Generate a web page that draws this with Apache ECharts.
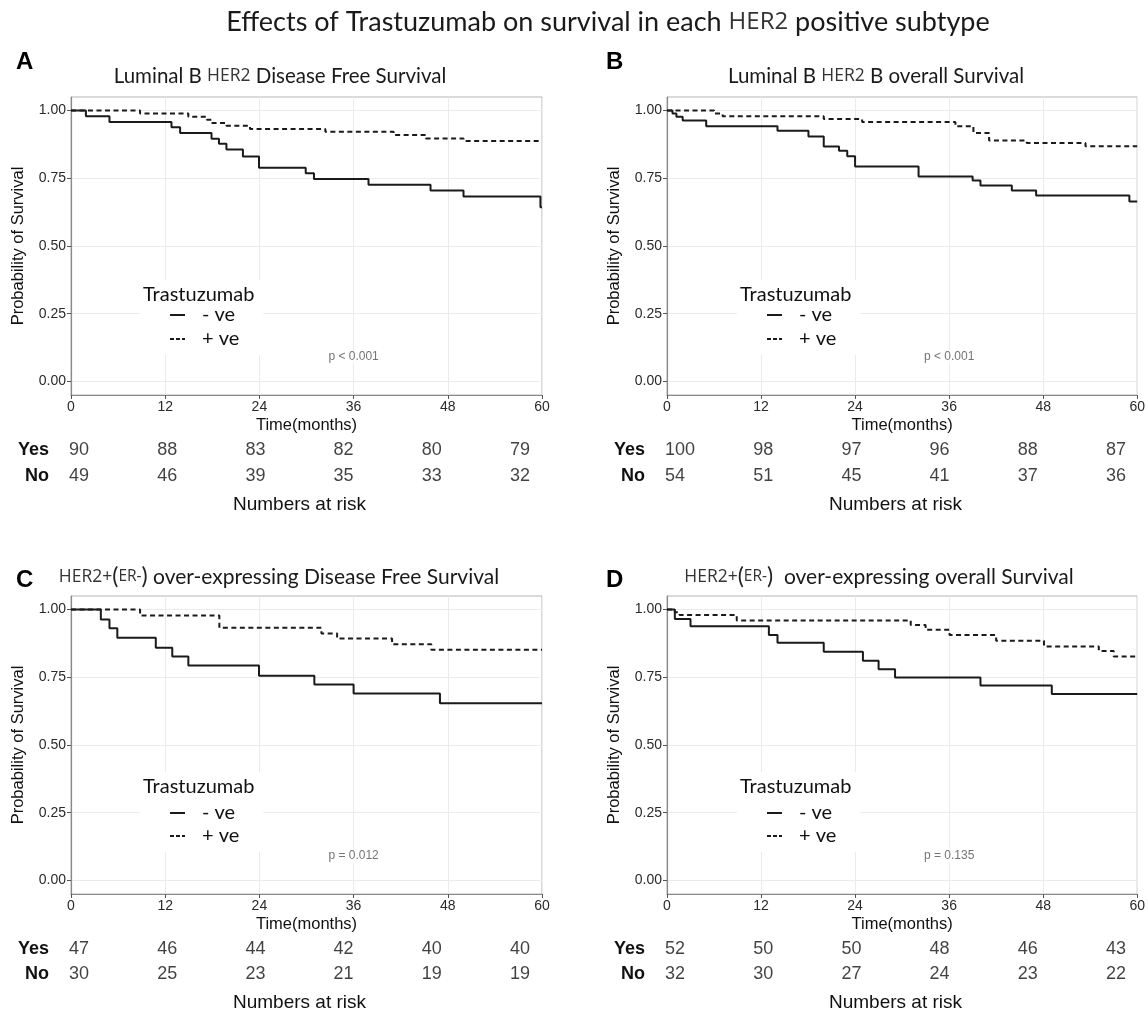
<!DOCTYPE html>
<html><head><meta charset="utf-8">
<script src="https://cdn.jsdelivr.net/npm/echarts@6/dist/echarts.min.js"></script>
<style>html,body{margin:0;padding:0;background:#fff}#c{width:1148px;height:1013px}</style>
</head><body><div id="c"></div>
<script>
// ---- tick labels ----
const xTicks = [0, 12, 24, 36, 48, 60];
const yTicks = [0, 0.25, 0.5, 0.75, 1.0];
const riskTimes = [0, 12, 24, 36, 48, 60];
const groups = ['No', 'Yes'];
const legendNames = ['- ve', '+ ve'];

// ---- Kaplan-Meier step points [month, survival] ----
const A_neg = [[0,1],[1.9,0.979],[4.9,0.958],[12.8,0.938],[13.9,0.917],[17.9,0.896],[18.85,0.877],[19.8,0.856],[21.9,0.830],[23.95,0.789],[29.9,0.769],[30.95,0.747],[37.9,0.726],[45.8,0.705],[50.0,0.683],[59.8,0.643],[60,0.643]];
const A_pos = [[0,1],[8.8,0.989],[14.95,0.977],[17.3,0.966],[17.9,0.954],[19.8,0.944],[22.8,0.932],[32.4,0.922],[41.1,0.910],[45.2,0.897],[50.0,0.888],[60,0.888]];
const B_neg = [[0,1],[0.7,0.989],[1.2,0.977],[2.0,0.963],[5.0,0.942],[14.1,0.925],[18.05,0.904],[20.0,0.867],[21.95,0.852],[23.0,0.831],[24.0,0.793],[32.1,0.757],[39.0,0.742],[40.0,0.723],[44.0,0.705],[47.1,0.686],[59.0,0.664],[60,0.664]];
const B_pos = [[0,1],[6.0,0.989],[7.1,0.979],[20.0,0.969],[24.9,0.958],[36.8,0.942],[39.1,0.917],[41.1,0.889],[45.9,0.880],[53.4,0.868],[60,0.868]];
const C_neg = [[0,1],[3.8,0.963],[4.9,0.931],[5.9,0.896],[10.8,0.859],[12.9,0.827],[14.95,0.793],[23.95,0.756],[31.0,0.723],[36.0,0.690],[47.0,0.654],[60,0.654]];
const C_pos = [[0,1],[8.8,0.978],[18.9,0.933],[31.9,0.912],[33.9,0.893],[40.9,0.872],[45.9,0.852],[60,0.852]];
const D_neg = [[0,1],[1.0,0.965],[3.0,0.938],[13.0,0.906],[14.1,0.877],[20.0,0.844],[25.0,0.811],[27.0,0.780],[29.1,0.749],[40.0,0.720],[49.1,0.688],[60,0.688]];
const D_pos = [[0,1],[1.0,0.990],[1.6,0.980],[8.9,0.960],[31.1,0.943],[33.0,0.925],[36.05,0.906],[42.0,0.885],[48.1,0.864],[55.1,0.847],[57.0,0.827],[60,0.827]];

// ---- numbers at risk ----
const A_yes = [90, 88, 83, 82, 80, 79];
const A_no  = [49, 46, 39, 35, 33, 32];
const B_yes = [100, 98, 97, 96, 88, 87];
const B_no  = [54, 51, 45, 41, 37, 36];
const C_yes = [47, 46, 44, 42, 40, 40];
const C_no  = [30, 25, 23, 21, 19, 19];
const D_yes = [52, 50, 50, 48, 46, 43];
const D_no  = [32, 30, 27, 24, 23, 22];

// ---- p-values (annotation at month 36, survival 0.09) ----
const pTexts = ['p < 0.001', 'p < 0.001', 'p = 0.012', 'p = 0.135'];
const pPos = [36, 0.09];

const mainTitle = 'Effects of Trastuzumab on survival in each {h|HER2} positive subtype';
const panelTitles = [
  'Luminal B {h|HER2} Disease Free Survival',
  'Luminal B {h|HER2} B overall Survival',
  '{h|HER2+}{p|(}{e|ER-}{p|)} over-expressing Disease Free Survival',
  '{h|HER2+}{p|(}{e|ER-}{p|)}  over-expressing overall Survival'
];
const panelLetters = ['A', 'B', 'C', 'D'];

const TF = 'Lato';
const AF = 'Liberation Sans';
const W = 471, H = 298;

const SOLID_ICON = 'path://M0,0h0.01v0.01h-0.01zM0,13.99h0.01v0.01h-0.01zM0,6h15v2h-15z';
const DASH_ICON = 'path://M0,0h0.01v0.01h-0.01zM0,13.99h0.01v0.01h-0.01zM0,6h4v2h-4zM6,6h4v2h-4zM12,6h3v2h-3z';

const panels = [
  {neg:A_neg, pos:A_pos, yes:A_yes, no:A_no, gx:71,  gy:97,  rx:79,  lx:140, ly:280, pt:25, ig:4, tx:280, ty:76,  tf:20.5, bx:16,  by:62},
  {neg:B_neg, pos:B_pos, yes:B_yes, no:B_no, gx:667, gy:97,  rx:675, lx:737, ly:280, pt:25, ig:4, tx:876, ty:76,  tf:20.5, bx:606, by:62},
  {neg:C_neg, pos:C_pos, yes:C_yes, no:C_no, gx:71,  gy:596, rx:79,  lx:140, ly:772, pt:31, ig:3, tx:279, ty:577, tf:21,   bx:16,  by:580},
  {neg:D_neg, pos:D_pos, yes:D_yes, no:D_no, gx:667, gy:596, rx:675, lx:737, ly:772, pt:31, ig:3, tx:879, ty:577, tf:21,   bx:606, by:580}
];

const grid = [], xAxis = [], yAxis = [], series = [], legend = [], graphic = [];

const richT = {
  h: {fontSize: 17.5, fontFamily: 'Open Sans', fill: '#333', color: '#333'},
  p: {fontSize: 23, fontFamily: TF, fill: '#222', color: '#222'},
  e: {fontSize: 15.5, fontFamily: 'Open Sans', fill: '#333', color: '#333'}
};

graphic.push({type:'text', x: 608, y: 22, z: 100,
  style: {text: mainTitle, fontSize: 27, fontFamily: TF, fill: '#1a1a1a', align: 'center', verticalAlign: 'middle',
    rich: {h: {fontSize: 24, fontFamily: 'Open Sans', fill: '#333'}}}});

panels.forEach((p, i) => {
  const mi = 2 * i, ri = 2 * i + 1;
  const axisY = p.gy + H;
  grid.push({left: p.gx, top: p.gy, width: W, height: H, show: true, borderColor: '#b5b5b5', borderWidth: 1, backgroundColor: '#fff'});
  grid.push({left: p.rx, top: axisY + 42, width: 441, height: 52});

  xAxis.push({gridIndex: mi, type: 'value', min: xTicks[0], max: xTicks[xTicks.length - 1], interval: xTicks[1] - xTicks[0],
    axisLine: {show: true, onZero: false, lineStyle: {color: '#8a8a8a', width: 1.2}},
    axisTick: {show: true, length: 4, lineStyle: {color: '#555'}},
    axisLabel: {fontSize: 14, color: '#2a2a2a', margin: 5, fontFamily: AF},
    splitLine: {show: true, lineStyle: {color: '#ebebeb', width: 1}},
    name: 'Time(months)', nameLocation: 'middle', nameGap: 22,
    nameTextStyle: {fontSize: 16.5, color: '#111', fontFamily: AF}});
  yAxis.push({gridIndex: mi, type: 'value', min: -0.05, max: 1.05,
    axisLine: {show: true, onZero: false, lineStyle: {color: '#8a8a8a', width: 1.2}},
    axisTick: {show: true, length: 4, customValues: yTicks, lineStyle: {color: '#555'}},
    axisLabel: {fontSize: 14, color: '#2a2a2a', margin: 5, fontFamily: AF, customValues: yTicks,
      formatter: v => v.toFixed(2)},
    splitLine: {show: true, lineStyle: {color: '#ebebeb', width: 1}},
    name: 'Probability of Survival', nameLocation: 'middle', nameGap: 44,
    nameTextStyle: {fontSize: 16.5, color: '#111', fontFamily: AF}});

  xAxis.push({gridIndex: ri, type: 'value', min: riskTimes[0], max: riskTimes[riskTimes.length - 1],
    axisLine: {show: false}, axisTick: {show: false}, axisLabel: {show: false}, splitLine: {show: false},
    name: 'Numbers at risk', nameLocation: 'middle', nameGap: 6,
    nameTextStyle: {fontSize: 19, color: '#111', fontFamily: AF}});
  yAxis.push({gridIndex: ri, type: 'category', data: groups,
    axisLine: {show: false}, axisTick: {show: false}, splitLine: {show: false},
    axisLabel: {fontSize: 18, fontWeight: 'bold', color: '#111', fontFamily: AF, margin: 30}});

  series.push({type: 'line', name: legendNames[0], xAxisIndex: mi, yAxisIndex: mi, step: 'end', data: p.neg,
    symbol: 'none', showSymbol: false, animation: false, z: 3,
    lineStyle: {color: '#1a1a1a', width: 2, type: 'solid'}, itemStyle: {color: '#1a1a1a'}});
  series.push({type: 'line', name: legendNames[1], xAxisIndex: mi, yAxisIndex: mi, step: 'end', data: p.pos,
    symbol: 'none', showSymbol: false, animation: false, z: 3,
    lineStyle: {color: '#1a1a1a', width: 2, type: [5, 3.5]}, itemStyle: {color: '#1a1a1a'}});
  series.push({type: 'scatter', xAxisIndex: mi, yAxisIndex: mi, data: [pPos], symbolSize: 1, animation: false, z: 4,
    itemStyle: {color: 'rgba(0,0,0,0)'}, silent: true,
    label: {show: true, position: 'inside', formatter: pTexts[i], fontSize: 12, color: '#505050', fontFamily: AF,
      backgroundColor: '#fff', padding: [1, 2]}});

  const mk = (vals, g) => vals.map((v, k) => {
    const item = {value: [riskTimes[k], g, v]};
    if (k === 0) item.label = {align: 'left', offset: [-10, 0]};
    return item;
  });
  [['Yes', p.yes], ['No', p.no]].forEach(([g, vals]) => {
    series.push({type: 'scatter', xAxisIndex: ri, yAxisIndex: ri, data: mk(vals, g), symbolSize: 1, animation: false,
      itemStyle: {color: 'rgba(0,0,0,0)'}, silent: true,
      label: {show: true, position: 'inside', formatter: q => String(q.value[2]), fontSize: 18, color: '#111', fontFamily: AF}});
  });

  legend.push({data: [{name: legendNames[0], icon: SOLID_ICON}, {name: legendNames[1], icon: DASH_ICON}],
    orient: 'vertical', left: p.lx, top: p.ly, backgroundColor: '#fff',
    padding: [p.pt, 24, 6, 30], itemWidth: 15, itemHeight: 14, itemGap: p.ig, selectedMode: false, z: 10,
    itemStyle: {borderWidth: 0, color: '#1a1a1a'},
    textStyle: {fontSize: 20, fontFamily: TF, color: '#111', lineHeight: 20, padding: [0, 0, 0, 12]}});

  graphic.push({type: 'text', x: p.lx + 3, y: p.ly + 15, z: 100,
    style: {text: 'Trastuzumab', fontSize: 20, fontFamily: TF, fill: '#111', align: 'left', verticalAlign: 'middle'}});
  graphic.push({type: 'text', x: p.tx, y: p.ty, z: 100,
    style: {text: panelTitles[i], fontSize: p.tf, fontFamily: TF, fill: '#1a1a1a', align: 'center', verticalAlign: 'middle', rich: richT}});
  graphic.push({type: 'text', x: p.bx, y: p.by, z: 100,
    style: {text: panelLetters[i], fontSize: 24, fontWeight: 'bold', fontFamily: AF, fill: '#000', align: 'left', verticalAlign: 'middle'}});
});

const chart = echarts.init(document.getElementById('c'));
chart.setOption({backgroundColor: '#fff', animation: false, grid, xAxis, yAxis, series, legend, graphic});
</script></body></html>
